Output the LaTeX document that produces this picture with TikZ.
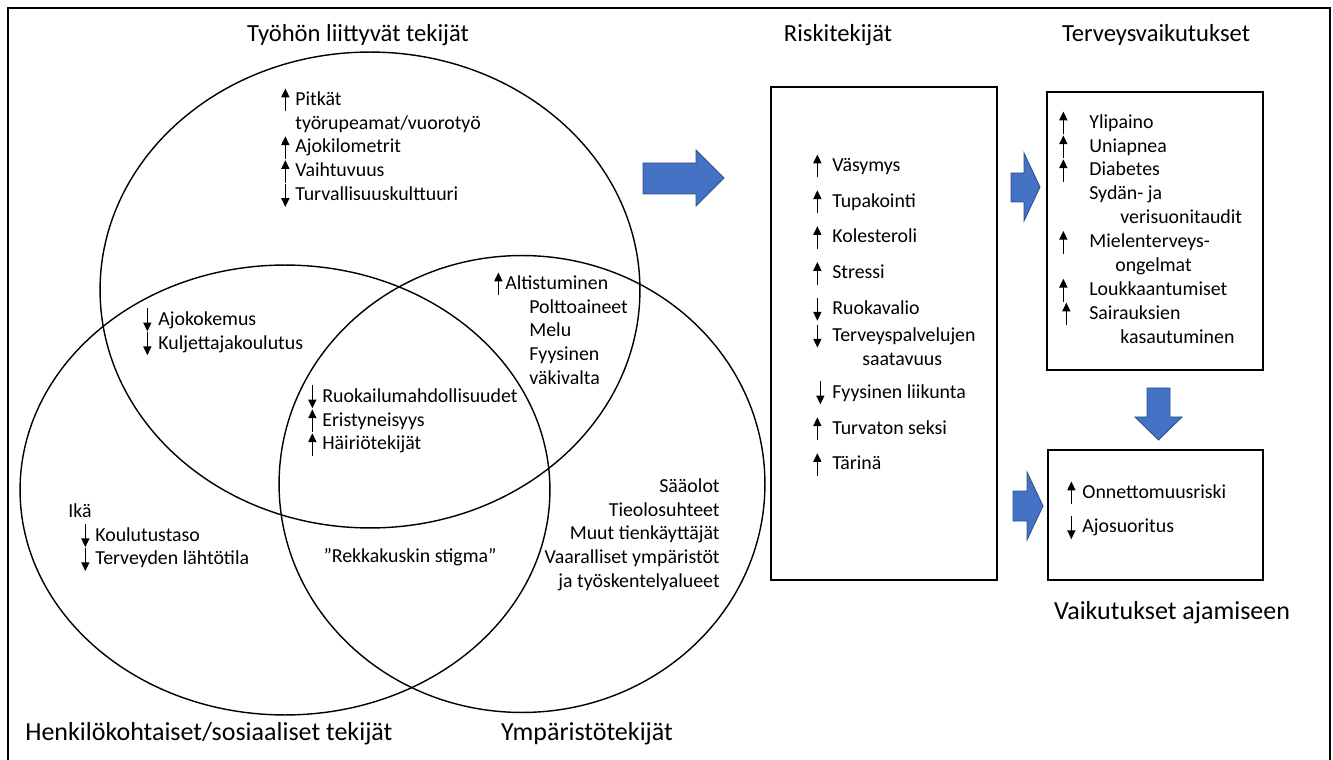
\documentclass[tikz,border=0pt]{standalone}
\usepackage{fontspec}
\setmainfont{Carlito}
\usetikzlibrary{arrows.meta,shapes.geometric}
\definecolor{nuolisin}{HTML}{4472C4}
\definecolor{nuolireuna}{HTML}{2F528F}
\tikzset{pikkunuoli/.style={line width=0.7pt,-{Triangle[length=5pt,width=4.6pt]}}}
\newcommand\ylos[1][2mm]{\makebox[#1][l]{\tikz[baseline=0pt]{\useasboundingbox (0,-3pt) rectangle (0,9pt);\draw[pikkunuoli] (0,-3.5pt) -- (0,9.5pt);}}}
\newcommand\alas[1][2mm]{\makebox[#1][l]{\tikz[baseline=0pt]{\useasboundingbox (0,-3pt) rectangle (0,9pt);\draw[pikkunuoli] (0,9.5pt) -- (0,-3.5pt);}}}
\newcommand\teksti{\fontsize{11.3}{13.6}\selectfont}
\newcommand\otsikko{\fontsize{14}{17}\selectfont}
\newcommand\alaotsikko{\fontsize{14.8}{18}\selectfont}

\begin{document}
\begin{tikzpicture}[x=0.02cm, y=-0.02cm,
	rengas/.style={ellipse, draw, line width=0.8pt, inner sep=0pt},
	laatikko/.style={draw, line width=0.8pt, inner sep=0pt},
	lohko/.style={anchor=north west, inner sep=0pt, align=left, font=\teksti},
	otsikkoteksti/.style={inner sep=0pt, font=\otsikko},
	blokkinuoli/.style={fill=nuolisin, draw=nuolireuna, line width=0.5pt}]
	\useasboundingbox (0,0) rectangle (1333,760);
	\draw [line width=1.1pt] (8,760) -- (8,8) -- (1330,8) -- (1330,760);
	% ympyrat
	\node[rengas, minimum width=108mm, minimum height=95.2mm] (tyo) at (370,290) {};
	\node[rengas, minimum width=106mm, minimum height=90mm] (henk) at (285,490) {};
	\node[rengas, minimum width=97.2mm, minimum height=91.4mm] (ymp) at (522,484) {};
	% otsikot
	\node[otsikkoteksti] (tyootsikko) at (358,35) {Työhön liittyvät tekijät};
	\node[otsikkoteksti] (riskiotsikko) at (838,35) {Riskitekijät};
	\node[otsikkoteksti] (terveysotsikko) at (1156,35) {Terveysvaikutukset};
	\node[otsikkoteksti, font=\alaotsikko, anchor=west] (henkotsikko) at (25,734) {Henkilökohtaiset/sosiaaliset tekijät};
	\node[otsikkoteksti, font=\alaotsikko] (ympotsikko) at (587,734) {Ympäristötekijät};
	\node[otsikkoteksti, font=\alaotsikko] (ajootsikko) at (1172,613) {Vaikutukset ajamiseen};
	% ympyroiden tekstit
	\node[lohko] (tyolista) at (285,89) {\ylos Pitkät\\ \hspace{2mm}työrupeamat/vuorotyö\\ \ylos Ajokilometrit\\ \ylos Vaihtuvuus\\ \alas Turvallisuuskulttuuri};
	\node[lohko] (ajolinssi) at (147,309) {\alas[2.2mm]Ajokokemus\\ \alas[2.2mm]Kuljettajakoulutus};
	\node[lohko] (altlista) at (498,273) {\ylos[1.4mm]Altistuminen\\ \hspace{6.2mm}Polttoaineet\\ \hspace{6.2mm}Melu\\ \hspace{6.2mm}Fyysinen\\ \hspace{6.2mm}väkivalta};
	\node[lohko] (keskilista) at (312,386) {\alas Ruokailumahdollisuudet\\ \ylos Eristyneisyys\\ \ylos Häiriötekijät};
	\node[lohko] (henklista) at (68,503) {Ikä\\ \hspace{3.4mm}\alas Koulutustaso\\ \hspace{3.4mm}\alas Terveyden lähtötila};
	\node[inner sep=0pt, font=\teksti] (stigma) at (410,557) {”Rekkakuskin stigma”};
	\node[lohko, anchor=north east, align=right] (ymplista) at (720,478) {Sääolot\\ Tieolosuhteet\\ Muut tienkäyttäjät\\ Vaaralliset ympäristöt\\ ja työskentelyalueet};
	% laatikot
	\node[laatikko, minimum width=45.2mm, minimum height=98.6mm] (riski) at (884,333.5) {};
	\node[laatikko, minimum width=43.2mm, minimum height=55.6mm] (terveys) at (1155,231) {};
	\node[laatikko, minimum width=43mm, minimum height=26mm] (ajo) at (1155.5,515) {};
	\node[lohko] (riskilista) at (817,155) {\ylos[3mm]Väsymys\\[6.8pt] \ylos[3mm]Tupakointi\\[6.8pt] \ylos[3mm]Kolesteroli\\[6.8pt] \ylos[3mm]Stressi\\[6.8pt] \alas[3mm]Ruokavalio\\[1.7pt] \alas[3mm]Terveyspalvelujen\\ \hspace{9mm}saatavuus\\[5.1pt] \hspace{0.6mm}\alas[2.4mm]Fyysinen liikunta\\[6.8pt] \ylos[3mm]Turvaton seksi\\[6.8pt] \ylos[3mm]Tärinä};
	\node[lohko] (terveyslista) at (1063,112) {\ylos[5.2mm]Ylipaino\\ \ylos[5.2mm]Uniapnea\\ \ylos[5.2mm]Diabetes\\ \hspace{5.2mm}Sydän- ja\\ \hspace{11.4mm}verisuonitaudit\\ \ylos[5.2mm]Mielenterveys-\\ \hspace{10.4mm}ongelmat\\ \ylos[5.2mm]Loukkaantumiset\\ \hspace{0.6mm}\ylos[4.6mm]Sairauksien\\ \hspace{11.4mm}kasautuminen};
	\node[lohko] (ajolista) at (1071,482) {\ylos[2.2mm]Onnettomuusriski\\[6.2pt] \alas[2.2mm]Ajosuoritus};
	% siniset nuolet
	\draw [blokkinuoli] (643,163) -- (696,163) -- (696,150) -- (724,178) -- (696,206) -- (696,194) -- (643,194) -- cycle;
	\draw [blokkinuoli] (1011,173) -- (1024,173) -- (1024,153) -- (1040,187) -- (1024,221) -- (1024,202) -- (1011,202) -- cycle;
	\draw [blokkinuoli] (1013,491) -- (1027,491) -- (1027,472) -- (1043,506) -- (1027,540) -- (1027,521) -- (1013,521) -- cycle;
	\draw [blokkinuoli] (1147,388) -- (1170,388) -- (1170,417) -- (1182,417) -- (1158.5,440) -- (1135,417) -- (1147,417) -- cycle;
\end{tikzpicture}
\end{document}
